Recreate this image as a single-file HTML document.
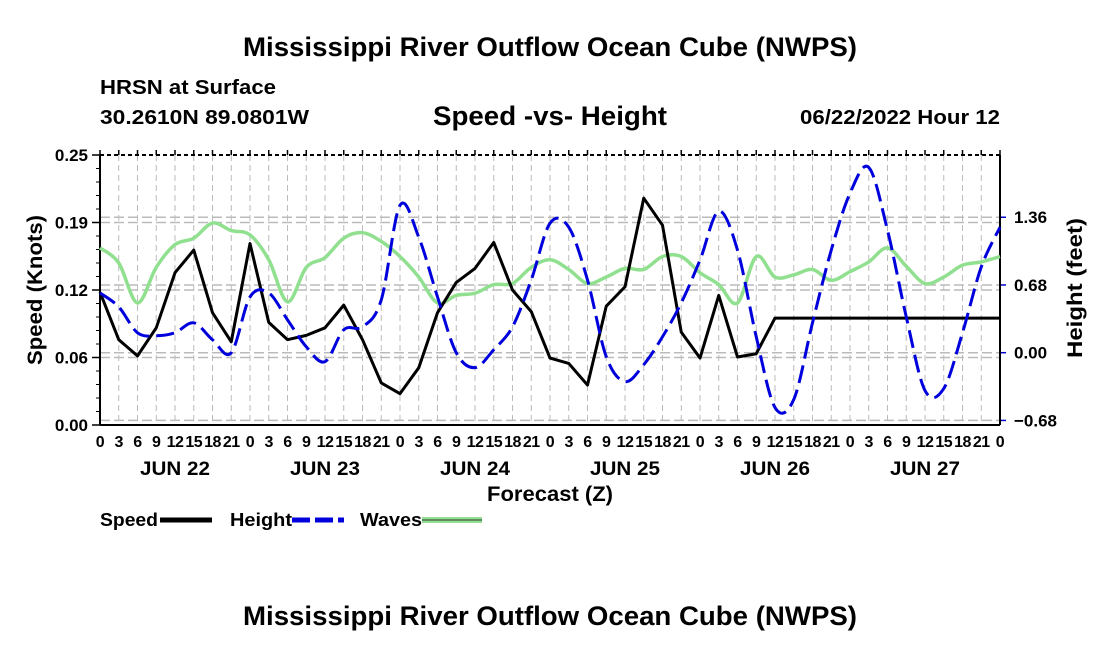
<!DOCTYPE html>
<html><head><meta charset="utf-8"><style>
body{margin:0;background:#fff;}
svg text{font-family:"Liberation Sans",Arial,sans-serif;font-weight:bold;fill:#000;}
</style></head><body>
<svg id="chart" width="1100" height="650" xmlns="http://www.w3.org/2000/svg">
<text x="550" y="56" font-size="27" text-anchor="middle" textLength="614" lengthAdjust="spacingAndGlyphs">Mississippi River Outflow Ocean Cube (NWPS)</text>
<text x="100" y="94" font-size="20" textLength="176" lengthAdjust="spacingAndGlyphs">HRSN at Surface</text>
<text x="100" y="124" font-size="20" textLength="209" lengthAdjust="spacingAndGlyphs">30.2610N  89.0801W</text>
<text x="550" y="125" font-size="27" text-anchor="middle" textLength="234" lengthAdjust="spacingAndGlyphs">Speed -vs- Height</text>
<text x="1000" y="124" font-size="20" text-anchor="end" textLength="200" lengthAdjust="spacingAndGlyphs">06/22/2022 Hour 12</text>
<text transform="translate(42,290) rotate(-90)" font-size="21" text-anchor="middle" textLength="150" lengthAdjust="spacingAndGlyphs">Speed (Knots)</text>
<text transform="translate(1082,288) rotate(-90)" font-size="21" text-anchor="middle" textLength="140" lengthAdjust="spacingAndGlyphs">Height (feet)</text>
<text x="550" y="501" font-size="21" text-anchor="middle" textLength="126" lengthAdjust="spacingAndGlyphs">Forecast (Z)</text>
<g id="grid"></g>
<g id="axes"></g>
<g id="series"></g>
<g>
<text x="100" y="526" font-size="18" textLength="58" lengthAdjust="spacingAndGlyphs">Speed</text>
<line x1="160" y1="520" x2="212" y2="520" stroke="#000" stroke-width="5"/>
<text x="230" y="526" font-size="18" textLength="62" lengthAdjust="spacingAndGlyphs">Height</text>
<line x1="292" y1="520" x2="344" y2="520" stroke="#0000dd" stroke-width="5" stroke-dasharray="18,5"/>
<text x="360" y="526" font-size="18" textLength="62" lengthAdjust="spacingAndGlyphs">Waves</text>
<line x1="422" y1="520" x2="482" y2="520" stroke="#90e090" stroke-width="6"/>
<line x1="422" y1="520" x2="482" y2="520" stroke="#333" stroke-width="1"/>
</g>
<text x="550" y="625" font-size="27" text-anchor="middle" textLength="614" lengthAdjust="spacingAndGlyphs">Mississippi River Outflow Ocean Cube (NWPS)</text>
</svg>
<script>
const hours = [];
for (let h = 0; h <= 144; h += 3) hours.push(h);
const speedValues = [0.123,0.079,0.064,0.090,0.141,0.162,0.104,0.077,0.168,0.095,0.079,0.083,0.090,0.111,0.079,0.039,0.029,0.053,0.104,0.132,0.145,0.169,0.125,0.105,0.062,0.057,0.037,0.110,0.128,0.210,0.185,0.086,0.062,0.120,0.063,0.066,0.099,0.099,0.099,0.099,0.099,0.099,0.099,0.099,0.099,0.099,0.099,0.099,0.099];
const heightValues = [0.60,0.46,0.20,0.17,0.20,0.30,0.13,0.00,0.56,0.60,0.33,0.06,-0.09,0.23,0.26,0.53,1.48,1.16,0.56,0.00,-0.15,0.03,0.26,0.73,1.30,1.26,0.73,-0.04,-0.29,-0.12,0.16,0.50,0.93,1.42,1.03,0.16,-0.55,-0.47,0.30,1.03,1.60,1.86,1.23,0.36,-0.38,-0.36,0.20,0.86,1.26];
const wavesValues = [0.164,0.150,0.113,0.146,0.167,0.173,0.187,0.180,0.176,0.153,0.114,0.146,0.155,0.173,0.178,0.170,0.156,0.137,0.113,0.120,0.122,0.130,0.131,0.146,0.153,0.144,0.131,0.137,0.145,0.144,0.156,0.156,0.141,0.130,0.113,0.156,0.137,0.139,0.144,0.134,0.142,0.151,0.164,0.147,0.131,0.137,0.148,0.151,0.156];
const speedTicks = [0,0.0625,0.125,0.1875,0.25];
const speedTickLabels = ["0.00","0.06","0.12","0.19","0.25"];
const heightTicks = [-0.68,0,0.68,1.36];
const heightTickLabels = ["\u22120.68","0.00","0.68","1.36"];
const dayLabels = ["JUN 22","JUN 23","JUN 24","JUN 25","JUN 26","JUN 27"];

const X0=100,X1=1000,YT=155,YB=425;
const xS=h=>X0+(h/144)*(X1-X0);
const yS=v=>YB-(v/0.25)*(YB-YT);
const yH=v=>352.7-v*99.6;
const NS="http://www.w3.org/2000/svg";
function mk(tag,attrs,parent){const e=document.createElementNS(NS,tag);for(const k in attrs)e.setAttribute(k,attrs[k]);parent.appendChild(e);return e;}
const grid=document.getElementById('grid'),axes=document.getElementById('axes'),series=document.getElementById('series');

hours.forEach(h=>{
  const l=mk('line',{x1:xS(h),y1:YT,x2:xS(h),y2:YB,stroke:'#bbb','stroke-width':1,'stroke-dasharray':'6,4'},grid);
  
  
  const t=mk('line',{x1:xS(h),y1:YT,x2:xS(h),y2:YT-5,stroke:'#000','stroke-width':1.5},axes);
  
  
  const lb=mk('text',{x:xS(h),y:YB+22,'font-size':16,'text-anchor':'middle','letter-spacing':'-0.5'},axes);
  lb.textContent=String(h%24);
  
  
});
dayLabels.forEach((d,i)=>{
  const t=mk('text',{x:xS(i*24+12),y:YB+50,'font-size':19,'text-anchor':'middle',textLength:70,lengthAdjust:'spacingAndGlyphs'},axes);
  t.textContent=d;
  
  
});
speedTicks.forEach((v,i)=>{
  if(i>0&&i<speedTicks.length-1){const g=mk('line',{x1:X0,y1:yS(v),x2:X1,y2:yS(v),stroke:'#bbb','stroke-width':1.5,'stroke-dasharray':'10,4'},grid);
  
  }
  const t=mk('line',{x1:X0-8,y1:yS(v),x2:X0,y2:yS(v),stroke:'#000','stroke-width':1.5},axes);
  
  
  const lb=mk('text',{x:X0-12,y:yS(v)+6,'font-size':17,'text-anchor':'end'},axes);
  lb.textContent=speedTickLabels[i];
  
  
});
for(let v=0;v<0.25;v+=0.0125){mk('line',{x1:X0-4,y1:yS(v),x2:X0,y2:yS(v),stroke:'#000','stroke-width':1},axes);}
heightTicks.forEach((v,i)=>{
  const g=mk('line',{x1:X0,y1:yH(v),x2:X1,y2:yH(v),stroke:'#bbb','stroke-width':1.5,'stroke-dasharray':'10,4'},grid);
  
  
  const t=mk('line',{x1:X1,y1:yH(v),x2:X1+6,y2:yH(v),stroke:'#00c','stroke-width':1.5},axes);
  
  
  const lb=mk('text',{x:X1+14,y:yH(v)+6,'font-size':17},axes);
  lb.textContent=heightTickLabels[i];
  
  
});
mk('line',{x1:X0,y1:YT,x2:X1,y2:YT,stroke:'#000','stroke-width':2,'stroke-dasharray':'4,3'},axes);
mk('line',{x1:X0,y1:YT,x2:X0,y2:YB,stroke:'#000','stroke-width':2},axes);
mk('line',{x1:X0,y1:YB,x2:X1,y2:YB,stroke:'#000','stroke-width':2},axes);
mk('line',{x1:X1,y1:YT,x2:X1,y2:YB,stroke:'#000','stroke-width':2},axes);

function smooth(pts){let d=`M${pts[0][0]},${pts[0][1]}`;for(let i=0;i<pts.length-1;i++){const p0=pts[Math.max(0,i-1)],p1=pts[i],p2=pts[i+1],p3=pts[Math.min(pts.length-1,i+2)];
d+=` C${p1[0]+(p2[0]-p0[0])/6},${p1[1]+(p2[1]-p0[1])/6} ${p2[0]-(p3[0]-p1[0])/6},${p2[1]-(p3[1]-p1[1])/6} ${p2[0]},${p2[1]}`;}return d;}
const wp=hours.map((h,i)=>[xS(h),yS(wavesValues[i])]);
const w=mk('path',{d:smooth(wp),fill:'none',stroke:'#90e090','stroke-width':3.5},series);


const sp=hours.map((h,i)=>[xS(h),yS(speedValues[i])]);
const s=mk('polyline',{points:sp.map(p=>p.join(',')).join(' '),fill:'none',stroke:'#000','stroke-width':3,'stroke-linejoin':'round'},series);


const hp=hours.map((h,i)=>[xS(h),yH(heightValues[i])]);
const hl=mk('path',{d:smooth(hp),fill:'none',stroke:'#0000dd','stroke-width':3,'stroke-dasharray':'18,7'},series);


</script>
</body></html>
